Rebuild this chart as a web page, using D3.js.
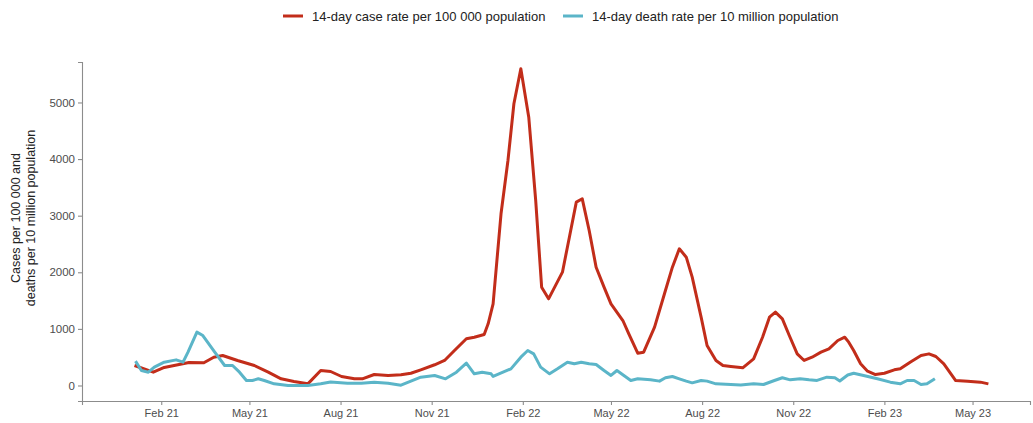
<!DOCTYPE html>
<html>
<head>
<meta charset="utf-8">
<script src="https://cdn.jsdelivr.net/npm/d3@7"></script>
<style>
  html, body { margin: 0; padding: 0; background: #fff; }
  svg { display: block; font-family: "Liberation Sans", Arial, sans-serif; }
</style>
</head>
<body>
<svg id="chart" width="1033" height="423"></svg>
<script>
// ---- Data ----
const caseDates = ["2021-01-05","2021-01-24","2021-02-04","2021-02-19","2021-03-01","2021-03-16","2021-03-26","2021-04-04","2021-04-19","2021-05-06","2021-05-20","2021-06-02","2021-06-15","2021-06-29","2021-07-12","2021-07-22","2021-08-02","2021-08-15","2021-08-23","2021-09-04","2021-09-18","2021-10-01","2021-10-11","2021-10-21","2021-11-04","2021-11-14","2021-11-24","2021-12-06","2021-12-14","2021-12-24","2021-12-28","2022-01-02","2022-01-10","2022-01-17","2022-01-23","2022-01-30","2022-02-07","2022-02-14","2022-02-20","2022-02-27","2022-03-13","2022-03-20","2022-03-27","2022-04-02","2022-04-09","2022-04-16","2022-04-24","2022-05-01","2022-05-13","2022-05-19","2022-05-28","2022-06-03","2022-06-14","2022-06-24","2022-07-02","2022-07-09","2022-07-16","2022-07-22","2022-07-31","2022-08-06","2022-08-15","2022-08-22","2022-08-30","2022-09-11","2022-09-22","2022-10-01","2022-10-08","2022-10-14","2022-10-21","2022-10-28","2022-11-05","2022-11-12","2022-11-20","2022-11-29","2022-12-07","2022-12-16","2022-12-23","2022-12-27","2023-01-01","2023-01-08","2023-01-15","2023-01-23","2023-02-01","2023-02-11","2023-02-17","2023-02-27","2023-03-10","2023-03-18","2023-03-25","2023-04-02","2023-04-14","2023-04-26","2023-05-09","2023-05-17"];
const caseRate = [353,235,318,371,406,401,500,530,442,353,235,118,71,29,265,247,159,118,118,194,177,189,217,277,366,442,618,825,853,901,1090,1443,3033,3975,4977,5595,4740,3269,1737,1531,2002,2620,3240,3298,2739,2090,1737,1443,1148,913,571,589,1030,1620,2090,2415,2267,1914,1207,707,442,353,336,312,471,853,1207,1295,1178,883,559,442,500,589,648,795,853,765,618,383,253,194,217,277,294,412,530,559,512,383,88,77,59,29];

const deathDates = ["2021-01-06","2021-01-12","2021-01-19","2021-01-25","2021-02-04","2021-02-16","2021-02-23","2021-02-28","2021-03-09","2021-03-15","2021-03-27","2021-04-06","2021-04-14","2021-04-21","2021-04-28","2021-05-04","2021-05-10","2021-05-16","2021-05-26","2021-06-09","2021-06-29","2021-07-12","2021-07-22","2021-08-08","2021-08-22","2021-09-04","2021-09-18","2021-10-01","2021-10-11","2021-10-21","2021-11-04","2021-11-15","2021-11-26","2021-12-06","2021-12-14","2021-12-22","2021-12-31","2022-01-02","2022-01-12","2022-01-20","2022-01-30","2022-02-06","2022-02-12","2022-02-19","2022-02-28","2022-03-08","2022-03-18","2022-03-25","2022-04-01","2022-04-09","2022-04-16","2022-04-24","2022-05-01","2022-05-07","2022-05-14","2022-05-21","2022-05-28","2022-06-10","2022-06-19","2022-06-25","2022-07-02","2022-07-09","2022-07-16","2022-07-22","2022-07-31","2022-08-06","2022-08-15","2022-08-30","2022-09-09","2022-09-22","2022-10-02","2022-10-13","2022-10-21","2022-10-29","2022-11-08","2022-11-17","2022-11-25","2022-12-05","2022-12-13","2022-12-18","2022-12-26","2023-01-01","2023-01-11","2023-01-25","2023-02-07","2023-02-17","2023-02-24","2023-03-03","2023-03-10","2023-03-16","2023-03-24"];
const deathRate = [430,265,235,324,412,453,412,589,942,883,589,353,353,235,88,88,118,88,29,0,0,29,60,41,41,59,41,5,77,147,177,118,235,395,206,235,206,160,235,294,500,618,559,324,206,294,412,383,412,383,371,265,177,265,177,88,118,100,77,136,159,118,77,47,88,77,29,18,10,29,18,88,136,100,118,100,90,147,136,80,185,217,177,118,59,29,88,88,18,29,118];

const xTickDates = ["2021-02-01","2021-05-01","2021-08-01","2021-11-01","2022-02-01","2022-05-01","2022-08-01","2022-11-01","2023-02-01","2023-05-01"];
const xTickLabels = ["Feb 21","May 21","Aug 21","Nov 21","Feb 22","May 22","Aug 22","Nov 22","Feb 23","May 23"];
const yTicks = [0,1000,2000,3000,4000,5000];

const seriesNames = ["14-day case rate per 100 000 population","14-day death rate per 10 million population"];
const seriesColors = ["#c22d1a","#5bb5c8"];
const yTitle = ["Cases per 100 000 and","deaths per 10 million population"];

// ---- Chart ----
const parse = d3.utcParse("%Y-%m-%d");
const svg = d3.select("#chart");
const plot = {left: 82, right: 1030, top: 62, bottom: 401};

const x = d3.scaleUtc()
  .domain([parse("2020-11-13"), parse("2023-06-28")])
  .range([plot.left, plot.right]);
const y = d3.scaleLinear()
  .domain([-274, 5715])
  .range([plot.bottom, plot.top]);

const axisColor = "#8c8c8c";
const tickText = "#4d4d4d";

// Y axis
const yAxis = svg.append("g")
  .attr("transform", `translate(${plot.left},0)`)
  .call(d3.axisLeft(y).tickValues(yTicks).tickSize(4).tickPadding(3).tickFormat(d3.format("d")));
yAxis.select(".domain").attr("stroke", axisColor).attr("stroke-width", 1.1);
yAxis.selectAll(".tick line").attr("stroke", axisColor).attr("stroke-width", 1.1);
yAxis.selectAll(".tick text").attr("fill", tickText).attr("font-size", 11.5).attr("font-family", "Liberation Sans, Arial, sans-serif");

// X axis
const xAxis = svg.append("g")
  .attr("transform", `translate(0,${plot.bottom})`)
  .call(d3.axisBottom(x).tickValues(xTickDates.map(parse)).tickSize(4).tickPadding(4)
    .tickFormat((d, i) => xTickLabels[i]));
xAxis.select(".domain").attr("stroke", axisColor).attr("stroke-width", 1.1);
xAxis.selectAll(".tick line").attr("stroke", axisColor).attr("stroke-width", 1.1);
xAxis.selectAll(".tick text").attr("fill", tickText).attr("font-size", 11).attr("font-family", "Liberation Sans, Arial, sans-serif");

// Y title
const yt = svg.append("text")
  .attr("transform", "translate(24,218) rotate(-90)")
  .attr("text-anchor", "middle")
  .attr("fill", "#222")
  .attr("font-size", 12.5);
yt.append("tspan").attr("x", 0).attr("dy", "-0.3em").text(yTitle[0]);
yt.append("tspan").attr("x", 0).attr("dy", "1.2em").text(yTitle[1]);

// Lines
const line = d3.line().x(d => x(d.date)).y(d => y(d.value)).curve(d3.curveLinear);
const caseData = caseDates.map((d, i) => ({date: parse(d), value: caseRate[i]}));
const deathData = deathDates.map((d, i) => ({date: parse(d), value: deathRate[i]}));

svg.append("path").datum(caseData)
  .attr("fill", "none").attr("stroke", seriesColors[0]).attr("stroke-width", 3)
  .attr("stroke-linejoin", "round").attr("stroke-linecap", "butt")
  .attr("d", line);
svg.append("path").datum(deathData)
  .attr("fill", "none").attr("stroke", seriesColors[1]).attr("stroke-width", 3)
  .attr("stroke-linejoin", "round").attr("stroke-linecap", "butt")
  .attr("d", line);

// Legend
const legend = svg.append("g").attr("font-size", 13).attr("fill", "#222");
const legendX = [283, 563];
seriesNames.forEach((name, i) => {
  const g = legend.append("g").attr("transform", `translate(${legendX[i]},16)`);
  g.append("line").attr("x1", 0).attr("x2", 20).attr("y1", 0).attr("y2", 0)
    .attr("stroke", seriesColors[i]).attr("stroke-width", 3);
  g.append("text").attr("x", 29).attr("y", 0).attr("dy", "0.35em").text(name);
});
</script>
</body>
</html>
